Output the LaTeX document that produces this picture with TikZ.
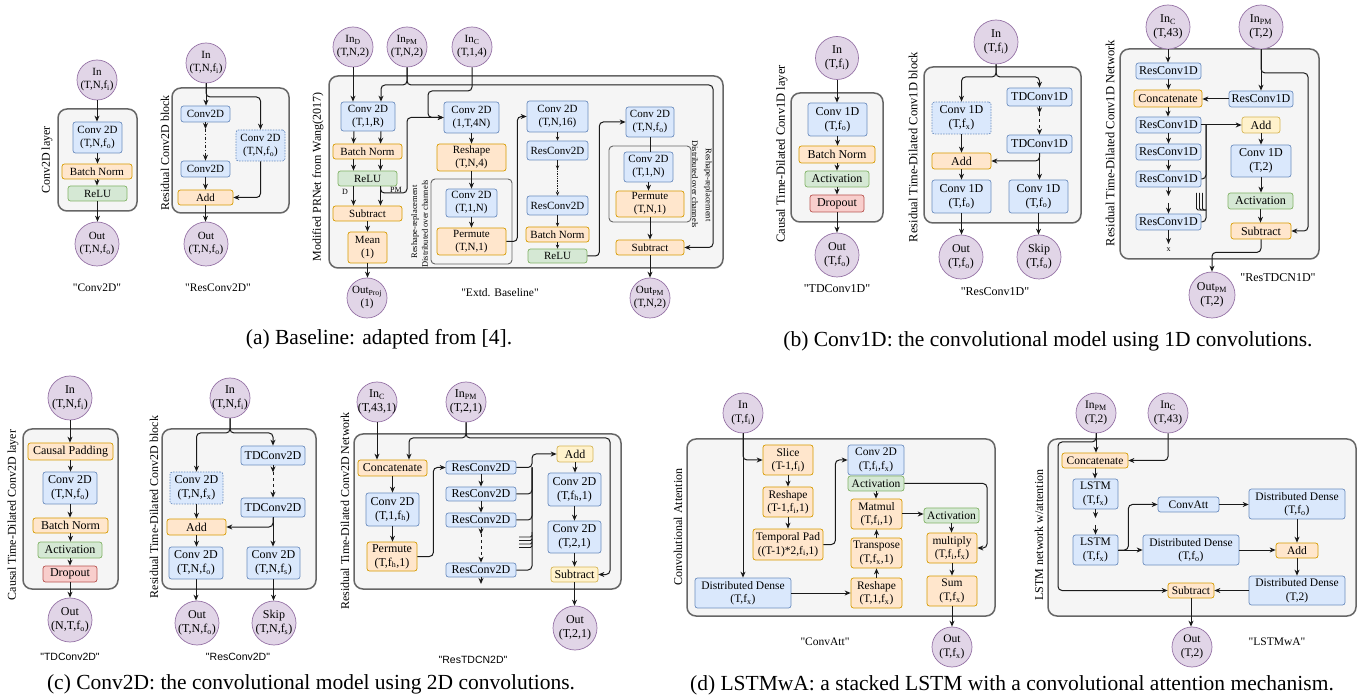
\documentclass[tikz,border=0pt]{standalone}
\usepackage{fontspec}
\setmainfont{Liberation Serif}[Ligatures=TeXOff]
\newfontfamily\qsans{Liberation Sans}[Ligatures=TeXOff]
\usetikzlibrary{arrows.meta}
\definecolor{bfill}{HTML}{DAE8FC}
\definecolor{bdraw}{HTML}{6C8EBF}
\definecolor{ofill}{HTML}{FFE6CC}
\definecolor{odraw}{HTML}{D79B00}
\definecolor{gfillc}{HTML}{D5E8D4}
\definecolor{gdrawc}{HTML}{82B366}
\definecolor{rfill}{HTML}{F8CECC}
\definecolor{rdraw}{HTML}{B85450}
\definecolor{yfill}{HTML}{FFF2CC}
\definecolor{ydraw}{HTML}{D6B656}
\definecolor{pfill}{HTML}{E1D5E7}
\definecolor{pdraw}{HTML}{9673A6}
\definecolor{kfill}{HTML}{F5F5F5}
\definecolor{kdraw}{HTML}{666666}
\definecolor{lncol}{HTML}{1A1A1A}
\newcommand\curf{\fontsize{11}{13}\selectfont}
\newcommand\lblf{\fontsize{12}{14}\selectfont}
\newcommand\qtf{\fontsize{11.5}{13}\selectfont}
\newcommand\bx[7]{\node[#2, minimum width={(#5)-(#3)}, minimum height={(#6)-(#4)}] (#1) at ({((#3)+(#5))/2},{((#4)+(#6))/2}) {#7};}
\newcommand\cir[5]{\node[circ, minimum size={2*(#4)}] (#1) at (#2,#3) {#5};}
\newcommand\sbs[1]{\textsubscript{#1}}
\newcommand\vd[2]{\draw[ar] (#1.south) -- (#1.south |- #2.north);}
\newcommand\vdt[2]{\draw[art] (#1.south) -- (#1.south |- #2.north);}
\begin{document}
\begin{tikzpicture}[x=1pt, y=-1pt,
 base/.style={rounded corners=2.5pt, line width=0.7pt, inner sep=0pt, align=center, font=\curf},
 sBlu/.style={base, draw=bdraw, fill=bfill},
 sBluD/.style={sBlu, dash pattern=on 1.5pt off 1.2pt},
 sOrg/.style={base, draw=odraw, fill=ofill},
 sGrn/.style={base, draw=gdrawc, fill=gfillc},
 sRed/.style={base, draw=rdraw, fill=rfill},
 sYel/.style={base, draw=ydraw, fill=yfill},
 circ/.style={circle, draw=pdraw, fill=pfill, line width=0.7pt, inner sep=-8pt, align=center, font=\curf},
 cont/.style={draw=kdraw, fill=kfill, line width=1.5pt, rounded corners=9pt, inner sep=0pt},
 innr/.style={draw=kdraw, fill=kfill, line width=0.9pt, rounded corners=4pt, inner sep=0pt},
 lbl/.style={font=\lblf, inner sep=0pt},
 sml/.style={font=\fontsize{8}{9}\selectfont, inner sep=0pt},
 rlbl/.style={font=\fontsize{8.5}{9.5}\selectfont, inner sep=0pt},
 qt/.style={font=\qtf, inner sep=0pt},
 captxt/.style={font=\fontsize{21.5}{24}\selectfont, inner sep=0pt},
 ar/.style={-{Stealth[length=6pt,width=5pt]}, line width=1pt, draw=lncol, rounded corners=4pt},
 art/.style={-{Stealth[length=4pt,width=3.5pt]}, line width=0.7pt, draw=lncol},
 ln/.style={line width=1pt, draw=lncol, rounded corners=4pt}]
\useasboundingbox (0,0) rectangle (1369,700);
\fill[white] (0,0) rectangle (1369,700);

% ================= (a) Conv2D =================
\bx{a1box}{cont}{58}{109}{137}{211}{}
\cir{a1in}{97}{80}{20}{In\\(T,N,f\sbs{i})}
\bx{a1conv}{sBlu}{73}{122}{122}{153}{Conv 2D\\(T,N,f\sbs{o})}
\bx{a1bn}{sOrg}{62}{164}{132}{179}{Batch Norm}
\bx{a1relu}{sGrn}{68}{186}{127}{201}{ReLU}
\cir{a1out}{97}{244}{22}{Out\\(T,N,f\sbs{o})}
\node[lbl, rotate=90] (a1lbl) at (47,160) {Conv2D layer};
\node[qt] (a1q) at (97,288) {"Conv2D"};
\vd{a1in}{a1conv}
\vd{a1conv}{a1bn}
\vd{a1bn}{a1relu}
\vd{a1relu}{a1out}

% ================= (a) ResConv2D =================
\bx{a2box}{cont}{172}{88}{289}{213}{}
\cir{a2in}{206}{63}{20}{In\\(T,N,f\sbs{i})}
\bx{a2c1}{sBlu}{181}{106}{230}{122}{Conv2D}
\bx{a2c2}{sBlu}{181}{161}{230}{177}{Conv2D}
\bx{a2cd}{sBluD}{236}{130}{285}{161}{Conv 2D\\(T,N,f\sbs{o})}
\bx{a2add}{sOrg}{178}{190}{233}{205}{Add}
\cir{a2out}{206}{244}{22}{Out\\(T,N,f\sbs{o})}
\node[lbl, rotate=90] (a2lbl) at (165,153) {Residual Conv2D block};
\node[qt] (a2q) at (218,288) {"ResConv2D"};
\coordinate (a2j) at (206,97);
\coordinate (a2d) at (205.5,129);
\draw[ar] (a2in.south) -- (a2in.south |- a2c1.north);
\draw[ar] (a2in.south) -- (a2j) -| (a2cd.north);
\draw[ar] (a2c1.south) -- (a2d);
\draw[ar, dash dot] (a2d) -- (a2c2.north);
\vd{a2c2}{a2add}
\vd{a2add}{a2out}
\draw[ar] (a2cd.south) |- (a2add.east);

% ================= (a) Extd. Baseline =================
\bx{a3box}{cont}{329}{76}{723}{268}{}
\cir{a3ind}{353}{47}{20}{In\sbs{D}\\(T,N,2)}
\cir{a3inpm}{407}{47}{20}{In\sbs{PM}\\(T,N,2)}
\cir{a3inc}{472}{47}{20}{In\sbs{C}\\(T,1,4)}
\bx{a3conv}{sBlu}{341}{102}{395}{131}{Conv 2D\\(T,1,R)}
\bx{a3bn}{sOrg}{333}{144}{402}{159}{Batch Norm}
\bx{a3relu}{sGrn}{338}{171}{397}{186}{ReLU}
\bx{a3sub}{sOrg}{333}{206}{402}{221}{Subtract}
\bx{a3mean}{sOrg}{348}{232}{387}{263}{Mean\\(1)}
\cir{a3out}{367}{298}{20}{Out\sbs{Proj}\\(1)}
\node[sml] (a3lD) at (345,192) {D};
\node[sml] (a3lPM) at (396,190) {PM};
\bx{a3c2}{sBlu}{444}{102}{499}{133}{Conv 2D\\(1,T,4N)}
\bx{a3rs}{sOrg}{437}{144}{506}{171}{Reshape\\(T,N,4)}
\bx{a3in1}{innr}{431}{179}{512}{264}{}
\bx{a3c3}{sBlu}{446}{189}{497}{217}{Conv 2D\\(T,1,N)}
\bx{a3pm}{sOrg}{437}{228}{506}{255}{Permute\\(T,N,1)}
\node[rlbl, rotate=90] (a3t1) at (415,222) {Reshape-replacement};
\node[rlbl, rotate=90] (a3t2) at (425,224) {Distributed over channels};
\bx{a3c4}{sBlu}{527}{101}{588}{132}{Conv 2D\\(T,N,16)}
\bx{a3r1}{sBlu}{527}{141}{588}{160}{ResConv2D}
\bx{a3r2}{sBlu}{527}{196}{588}{215}{ResConv2D}
\bx{a3bn2}{sOrg}{526}{227}{589}{242}{Batch Norm}
\bx{a3relu2}{sGrn}{528}{249}{587}{263}{ReLU}
\bx{a3c5}{sBlu}{626}{107}{674}{137}{Conv 2D\\(T,N,f\sbs{o})}
\bx{a3in2}{innr}{609}{146}{691}{222}{}
\bx{a3c6}{sBlu}{624}{152}{673}{182}{Conv 2D\\(T,1,N)}
\bx{a3pm2}{sOrg}{616}{191}{684}{217}{Permute\\(T,N,1)}
\bx{a3sub2}{sOrg}{616}{240}{684}{255}{Subtract}
\cir{a3outpm}{650}{298}{20}{Out\sbs{PM}\\(T,N,2)}
\node[rlbl, rotate=-90] (a3t3) at (695,184) {Distributed over channels};
\node[rlbl, rotate=-90] (a3t4) at (708,185) {Reshape-replacement};
\node[qt] (a3q) at (500,293) {"Extd. Baseline"};
\node[lbl, rotate=90] (a3lbl) at (318,177) {Modified PRNet from Wang(2017)};
\draw[ar] (a3ind.south) -- (a3ind.south |- a3conv.north);
\draw[ar] (a3inpm.south) -- (407,85) -| ([xshift=13pt]a3conv.north);
\draw[ar] (a3inpm.south) -- (407,85) -- (713,85) |- (a3sub2.east);
\draw[ar] (a3inc.south) |- (428,91) |- (a3c2.west);
\foreach \s in {-14,13} {
  \draw[ar] ([xshift=\s pt]a3conv.south) -- ([xshift=\s pt]a3bn.north);
  \draw[ar] ([xshift=\s pt]a3bn.south) -- ([xshift=\s pt]a3relu.north);
  \draw[ar] ([xshift=\s pt]a3relu.south) -- ([xshift=\s pt]a3sub.north);
}
\draw[ar] ([xshift=13pt]a3relu.south) |- (407,193) |- (a3c2.west);
\vd{a3sub}{a3mean}
\vd{a3mean}{a3out}
\vd{a3c2}{a3rs}
\vd{a3rs}{a3c3}
\vd{a3c3}{a3pm}
\draw[ar] (a3pm.east) -- ++(11,0) |- (a3c4.west);
\vdt{a3c4}{a3r1}
\coordinate (a3dd) at ([yshift=-9pt]a3r1.south);
\draw[art] (a3r1.south) -- (a3dd);
\draw[art, densely dotted] (a3dd) -- (a3r2.north);
\vdt{a3r2}{a3bn2}
\vdt{a3bn2}{a3relu2}
\draw[ar] (a3relu2.east) -- ++(12,0) |- (a3c5.west);
\draw[ln] (a3c5.south) -- (a3c5.south |- a3c6.north);
\vd{a3c6}{a3pm2}
\vd{a3pm2}{a3sub2}
\vd{a3sub2}{a3outpm}
\node[captxt] (capa) at (379,339) {(a) Baseline: adapted from [4].};

% ================= (b) =================
\renewcommand\curf{\fontsize{12}{14}\selectfont}
\renewcommand\lblf{\fontsize{12.5}{14}\selectfont}
\renewcommand\qtf{\fontsize{12}{14}\selectfont}
\bx{b1box}{cont}{791}{93}{883}{222}{}
\cir{b1in}{837}{58}{21.5}{In\\(T,f\sbs{i})}
\bx{b1conv}{sBlu}{808}{103}{867}{136}{Conv 1D\\(T,f\sbs{o})}
\bx{b1bn}{sOrg}{799}{146}{875}{163}{Batch Norm}
\bx{b1act}{sGrn}{805}{171}{869}{187}{Activation}
\bx{b1drop}{sRed}{810}{195}{864}{212}{Dropout}
\cir{b1out}{837}{255}{22}{Out\\(T,f\sbs{o})}
\node[lbl, rotate=90] (b1lbl) at (782,154) {Causal Time-Dilated Conv1D layer};
\node[qt] (b1q) at (837,289) {"TDConv1D"};
\vd{b1in}{b1conv}
\vd{b1conv}{b1bn}
\vd{b1bn}{b1act}
\vd{b1act}{b1drop}
\vd{b1drop}{b1out}

\bx{b2box}{cont}{924}{67}{1081}{223}{}
\cir{b2in}{996}{42}{22}{In\\(T,f\sbs{i})}
\bx{b2cx}{sBluD}{932}{102}{991}{134}{Conv 1D\\(T,f\sbs{x})}
\bx{b2add}{sOrg}{932}{153}{991}{169}{Add}
\bx{b2co}{sBlu}{932}{180}{991}{213}{Conv 1D\\(T,f\sbs{o})}
\bx{b2t1}{sBlu}{1007}{88}{1072}{106}{TDConv1D}
\bx{b2t2}{sBlu}{1007}{135}{1072}{153}{TDConv1D}
\bx{b2cs}{sBlu}{1009}{180}{1068}{213}{Conv 1D\\(T,f\sbs{o})}
\cir{b2out}{961}{257}{22}{Out\\(T,f\sbs{o})}
\cir{b2skip}{1039}{257}{22}{Skip\\(T,f\sbs{o})}
\node[lbl, rotate=90] (b2lbl) at (913,147) {Residual Time-Dilated Conv1D block};
\node[qt] (b2q) at (995,292) {"ResConv1D"};
\coordinate (b2j) at (996,77);
\draw[ar] (b2in.south) -- (b2j) -| (b2cx.north);
\draw[ar] (b2in.south) -- (b2j) -| (b2t1.north);
\coordinate (b2d) at ([yshift=-7pt]b2t1.south);
\draw[ar] (b2t1.south) -- (b2d);
\draw[ar, dashed] (b2d) -- (b2t2.north);
\draw[ar] (b2t2.south) |- (b2add.east);
\vd{b2t2}{b2cs}
\vd{b2cx}{b2add}
\vd{b2add}{b2co}
\draw[ar] (b2co.south) -- (b2co.south |- b2out.north);
\draw[ar] (b2cs.south) -- (b2cs.south |- b2skip.north);

\bx{b3box}{cont}{1120}{49}{1319}{259}{}
\cir{b3inc}{1168}{27}{22}{In\sbs{C}\\(T,43)}
\cir{b3inpm}{1261}{27}{22}{In\sbs{PM}\\(T,2)}
\bx{b3r1}{sBlu}{1136}{63}{1201}{79}{ResConv1D}
\bx{b3cat}{sOrg}{1134}{90}{1202}{107}{Concatenate}
\bx{b3r2}{sBlu}{1136}{117}{1201}{133}{ResConv1D}
\bx{b3r3}{sBlu}{1136}{144}{1201}{160}{ResConv1D}
\bx{b3r4}{sBlu}{1136}{171}{1201}{187}{ResConv1D}
\bx{b3r5}{sBlu}{1136}{214}{1201}{230}{ResConv1D}
\node[sml] (b3x) at (1168.5,250) {x};
\coordinate (b3xe) at (1168.5,244);
\bx{b3rp}{sBlu}{1229}{91}{1293}{107}{ResConv1D}
\bx{b3add}{sYel}{1242}{117}{1280}{133}{Add}
\bx{b3conv}{sBlu}{1231}{145}{1291}{177}{Conv 1D\\(T,2)}
\bx{b3act}{sGrn}{1228}{193}{1293}{209}{Activation}
\bx{b3sub}{sOrg}{1231}{223}{1291}{239}{Subtract}
\cir{b3out}{1212}{295}{23}{Out\sbs{PM}\\(T,2)}
\node[qt] (b3q) at (1278,278) {"ResTDCN1D"};
\node[lbl, rotate=90] (b3lbl) at (1110,143) {Residual Time-Dilated Conv1D Network};
\draw[ar] (b3inc.south) -- (b3inc.south |- b3r1.north);
\vd{b3r1}{b3cat}
\vd{b3cat}{b3r2}
\vd{b3r2}{b3r3}
\vd{b3r3}{b3r4}
\coordinate (b3g1) at (1168.5,196);
\coordinate (b3g2) at (1168.5,203);
\draw[ar] (b3r4.south) -- (b3g1);
\draw[ar] (b3g2) -- (b3r5.north);
\draw[ar] (b3r5.south) -- (b3xe);
\draw[ar] (b3inpm.south) -- (b3inpm.south |- b3rp.north);
\draw[ar] (b3inpm.south) -- (1261,73) -- (1308,73) |- (b3sub.east);
\draw[ar] (b3rp.west) -- (b3rp.west -| b3cat.east);
\draw[ar] (b3r2.east) -- (b3r2.east -| b3add.west);
\draw[ln] (b3r4.east) -| (1206,125);
\draw[ln] (b3r5.east) -| (1206,125);
\foreach \xx in {1196.5,1199.5,1202.5} {
  \draw[line width=0.8pt, draw=lncol, rounded corners=1.5pt] (\xx,193) |- (1206,210);
}
\vd{b3add}{b3conv}
\vd{b3conv}{b3act}
\vd{b3act}{b3sub}
\draw[ar] (b3sub.south) -- ++(0,13) -| (b3out.north);
\node[captxt] (capb) at (1048,341) {(b) Conv1D: the convolutional model using 1D convolutions.};

% ================= (c) =================
\renewcommand\lblf{\fontsize{12}{14}\selectfont}
\renewcommand\qtf{\qsans\fontsize{10.5}{12}\selectfont}
\bx{c1box}{cont}{23}{429}{118}{589}{}
\cir{c1in}{70}{398}{22}{In\\(T,N,f\sbs{i})}
\bx{c1pad}{sOrg}{28}{443}{113}{460}{Causal Padding}
\bx{c1conv}{sBlu}{43}{472}{97}{504}{Conv 2D\\(T,N,f\sbs{o})}
\bx{c1bn}{sOrg}{33}{518}{108}{533}{Batch Norm}
\bx{c1act}{sGrn}{38}{542}{102}{558}{Activation}
\bx{c1drop}{sRed}{43}{566}{97}{582}{Dropout}
\cir{c1out}{70}{620}{22}{Out\\(N,T,f\sbs{o})}
\node[lbl, rotate=90] (c1lbl) at (13,515) {Causal Time-Dilated Conv2D layer};
\node[qt] (c1q) at (70,657) {"TDConv2D"};
\vd{c1in}{c1pad}
\vd{c1pad}{c1conv}
\vd{c1conv}{c1bn}
\vd{c1bn}{c1act}
\vd{c1act}{c1drop}
\vd{c1drop}{c1out}

\bx{c2box}{cont}{162}{429}{316}{589}{}
\cir{c2in}{230}{398}{20}{In\\(T,N,f\sbs{i})}
\bx{c2t1}{sBlu}{241}{446}{305}{465}{TDConv2D}
\bx{c2t2}{sBlu}{241}{498}{305}{517}{TDConv2D}
\bx{c2cx}{sBluD}{170}{472}{223}{504}{Conv 2D\\(T,N,f\sbs{x})}
\bx{c2add}{sOrg}{167}{519}{226}{535}{Add}
\bx{c2co}{sBlu}{169}{547}{223}{579}{Conv 2D\\(T,N,f\sbs{o})}
\bx{c2cs}{sBlu}{247}{547}{300}{579}{Conv 2D\\(T,N,f\sbs{s})}
\cir{c2out}{197}{623}{22}{Out\\(T,N,f\sbs{o})}
\cir{c2skip}{274}{623}{22}{Skip\\(T,N,f\sbs{s})}
\node[lbl, rotate=90] (c2lbl) at (154,507) {Residual Time-Dilated Conv2D block};
\node[qt] (c2q) at (238,657) {"ResConv2D"};
\coordinate (c2j) at (230,433);
\draw[ar] (c2in.south) -- (c2j) -| (c2cx.north);
\draw[ar] (c2in.south) -- (c2j) -| (c2t1.north);
\coordinate (c2d) at ([yshift=-7pt]c2t1.south);
\draw[ar] (c2t1.south) -- (c2d);
\draw[ar, dashed] (c2d) -- (c2t2.north);
\draw[ar] (c2t2.south) |- (c2add.east);
\vd{c2t2}{c2cs}
\vd{c2cx}{c2add}
\vd{c2add}{c2co}
\draw[ar] (c2co.south) -- (c2co.south |- c2out.north);
\draw[ar] (c2cs.south) -- (c2cs.south |- c2skip.north);

\bx{c3box}{cont}{354}{434}{621}{589}{}
\cir{c3inc}{377}{402}{20}{In\sbs{C}\\(T,43,1)}
\cir{c3inpm}{466}{402}{20}{In\sbs{PM}\\(T,2,1)}
\bx{c3cat}{sOrg}{358}{460}{427}{476}{Concatenate}
\bx{c3conv}{sBlu}{366}{493}{419}{526}{Conv 2D\\(T,1,f\sbs{h})}
\bx{c3pm}{sOrg}{367}{542}{417}{571}{Permute\\(T,f\sbs{h},1)}
\bx{c3r1}{sBlu}{446}{461}{516}{474}{ResConv2D}
\bx{c3r2}{sBlu}{446}{487}{516}{501}{ResConv2D}
\bx{c3r3}{sBlu}{446}{513}{516}{527}{ResConv2D}
\bx{c3r4}{sBlu}{446}{563}{516}{577}{ResConv2D}
\bx{c3add}{sYel}{557}{446}{593}{462}{Add}
\bx{c3c1}{sBlu}{548}{473}{601}{506}{Conv 2D\\(T,f\sbs{h},1)}
\bx{c3c2}{sBlu}{548}{521}{601}{553}{Conv 2D\\(T,2,1)}
\bx{c3sub}{sYel}{551}{567}{598}{582}{Subtract}
\cir{c3out}{575}{628}{22}{Out\\(T,2,1)}
\node[qt] (c3q) at (473,660) {"ResTDCN2D"};
\node[lbl, rotate=90] (c3lbl) at (345,511) {Residual Time-Dilated Conv2D Network};
\draw[ar] (c3inc.south) -- (c3inc.south |- c3cat.north);
\coordinate (c3j) at (466,438);
\draw[ar] (c3inpm.south) -- (c3j) -| ([xshift=16.5pt]c3cat.north);
\draw[ar] (c3inpm.south) -- (c3j) -- (610,438) |- (c3sub.east);
\vd{c3cat}{c3conv}
\vd{c3conv}{c3pm}
\draw[ar] (c3pm.east) -- ++(16,0) |- (c3r1.west);
\vd{c3r1}{c3r2}
\vd{c3r2}{c3r3}
\coordinate (c3d) at ([yshift=-7pt]c3r3.south);
\draw[ar] (c3r3.south) -- (c3d);
\draw[ar, dashed] (c3d) -- (c3r4.north);
\coordinate (c3e) at (481,584);
\draw[ar] (c3r4.south) -- (c3r4.south |- c3e);
\draw[ar] (c3r1.east) -- (532,467.5) |- (c3add.west);
\draw[ln] (c3r2.east) -| (532,467.5);
\draw[ln] (c3r3.east) -| (532,467.5);
\draw[ln] (c3r4.east) -| (532,467.5);
\foreach \yy in {537,540.5,544,547.5} {
  \draw[line width=0.8pt, draw=lncol, rounded corners=1.5pt] (519,\yy) -| (532,\yy-5);
}
\vd{c3add}{c3c1}
\vd{c3c1}{c3c2}
\vd{c3c2}{c3sub}
\vd{c3sub}{c3out}
\node[captxt] (capc) at (311,684) {(c) Conv2D: the convolutional model using 2D convolutions.};

% ================= (d) =================
\renewcommand\curf{\fontsize{11.5}{13.5}\selectfont}
\renewcommand\qtf{\fontsize{11.5}{13}\selectfont}
\bx{d1box}{cont}{687}{439}{995}{616}{}
\cir{d1in}{743}{413}{20}{In\\(T,f\sbs{i})}
\bx{d1slice}{sOrg}{763}{445}{813}{475}{Slice\\(T-1,f\sbs{i})}
\bx{d1rs}{sOrg}{763}{487}{813}{517}{Reshape\\(T-1,f\sbs{i},1)}
\bx{d1tp}{sOrg}{753}{529}{823}{560}{Temporal Pad\\((T-1)*2,f\sbs{i},1)}
\bx{d1dd}{sBlu}{695}{578}{791}{608}{Distributed Dense\\(T,f\sbs{x})}
\bx{d1conv}{sBlu}{848}{445}{904}{475}{Conv 2D\\(T,f\sbs{i},f\sbs{x})}
\bx{d1act}{sGrn}{848}{476}{904}{491}{Activation}
\bx{d1mm}{sOrg}{851}{499}{902}{529}{Matmul\\(T,f\sbs{i},1)}
\bx{d1tr}{sOrg}{851}{538}{902}{568}{Transpose\\(T,f\sbs{x},1)}
\bx{d1rs2}{sOrg}{851}{578}{902}{608}{Reshape\\(T,1,f\sbs{x})}
\bx{d1act2}{sGrn}{924}{508}{979}{523}{Activation}
\bx{d1mul}{sOrg}{927}{533}{977}{563}{multiply\\(T,f\sbs{i},f\sbs{x})}
\bx{d1sum}{sOrg}{927}{576}{977}{606}{Sum\\(T,f\sbs{x})}
\cir{d1out}{952}{647}{20}{Out\\(T,f\sbs{x})}
\node[qt] (d1q) at (825,642) {"ConvAtt"};
\node[lbl, rotate=90] (d1lbl) at (678,527) {Convolutional Attention};
\draw[ar] (d1in.south) |- (d1slice.west);
\draw[ar] (d1in.south) -- (d1in.south |- d1dd.north);
\vd{d1slice}{d1rs}
\vd{d1rs}{d1tp}
\draw[ar] (d1tp.east) -- ++(12,0) |- (d1conv.west);
\vd{d1act}{d1mm}
\draw[ar] (d1rs2.north) -- (d1rs2.north |- d1tr.south);
\draw[ar] (d1tr.north) -- (d1tr.north |- d1mm.south);
\draw[ar] (d1dd.east) -- (d1dd.east -| d1rs2.west);
\draw[ar] (d1mm.east) -- (d1mm.east -| d1act2.west);
\vd{d1act2}{d1mul}
\draw[ar] (d1act.east) -- (987,483.5) |- (d1mul.east);
\vd{d1mul}{d1sum}
\vd{d1sum}{d1out}

\bx{d2box}{cont}{1048}{439}{1356}{616}{}
\cir{d2inpm}{1096}{413}{20}{In\sbs{PM}\\(T,2)}
\cir{d2inc}{1168}{413}{20}{In\sbs{C}\\(T,43)}
\bx{d2cat}{sOrg}{1062}{453}{1128}{468}{Concatenate}
\bx{d2l1}{sBlu}{1073}{479}{1118}{509}{LSTM\\(T,f\sbs{x})}
\bx{d2l2}{sBlu}{1073}{535}{1118}{565}{LSTM\\(T,f\sbs{x})}
\bx{d2ca}{sBlu}{1158}{497}{1219}{512}{ConvAtt}
\bx{d2dd1}{sBlu}{1249}{489}{1345}{519}{Distributed Dense\\(T,f\sbs{o})}
\bx{d2dd2}{sBlu}{1143}{535}{1239}{565}{Distributed Dense\\(T,f\sbs{o})}
\bx{d2add}{sOrg}{1276}{543}{1318}{558}{Add}
\bx{d2dd3}{sBlu}{1249}{576}{1345}{605}{Distributed Dense\\(T,2)}
\bx{d2sub}{sOrg}{1168}{583}{1214}{598}{Subtract}
\cir{d2out}{1192}{647}{20}{Out\\(T,2)}
\node[qt] (d2q) at (1277,642) {"LSTMwA"};
\node[lbl, rotate=90] (d2lbl) at (1039,535) {LSTM network w/attention};
\draw[ar] (d2inpm.south) -- (d2inpm.south |- d2cat.north);
\draw[ar] (d2inpm.south) |- (1058,442) |- (d2sub.west);
\draw[ar] (d2inc.south) |- (d2cat.east);
\vd{d2cat}{d2l1}
\coordinate (d2g1) at (1095.5,518);
\coordinate (d2g2) at (1095.5,525);
\draw[ar] (d2l1.south) -- (d2g1);
\draw[ar] (d2g2) -- (d2l2.north);
\draw[ar] (d2l2.east) -- (d2dd2.west);
\draw[ar] (d2l2.east) -- ++(10,0) |- (d2ca.west);
\draw[ar] (d2ca.east) -- (d2ca.east -| d2dd1.west);
\vd{d2dd1}{d2add}
\draw[ar] (d2dd2.east) -- (d2dd2.east -| d2add.west);
\vd{d2add}{d2dd3}
\draw[ar] (d2dd3.west) -- (d2dd3.west -| d2sub.east);
\vd{d2sub}{d2out}
\node[captxt] (capd) at (1012,685) {(d) LSTMwA: a stacked LSTM with a convolutional attention mechanism.};
\end{tikzpicture}
\end{document}
